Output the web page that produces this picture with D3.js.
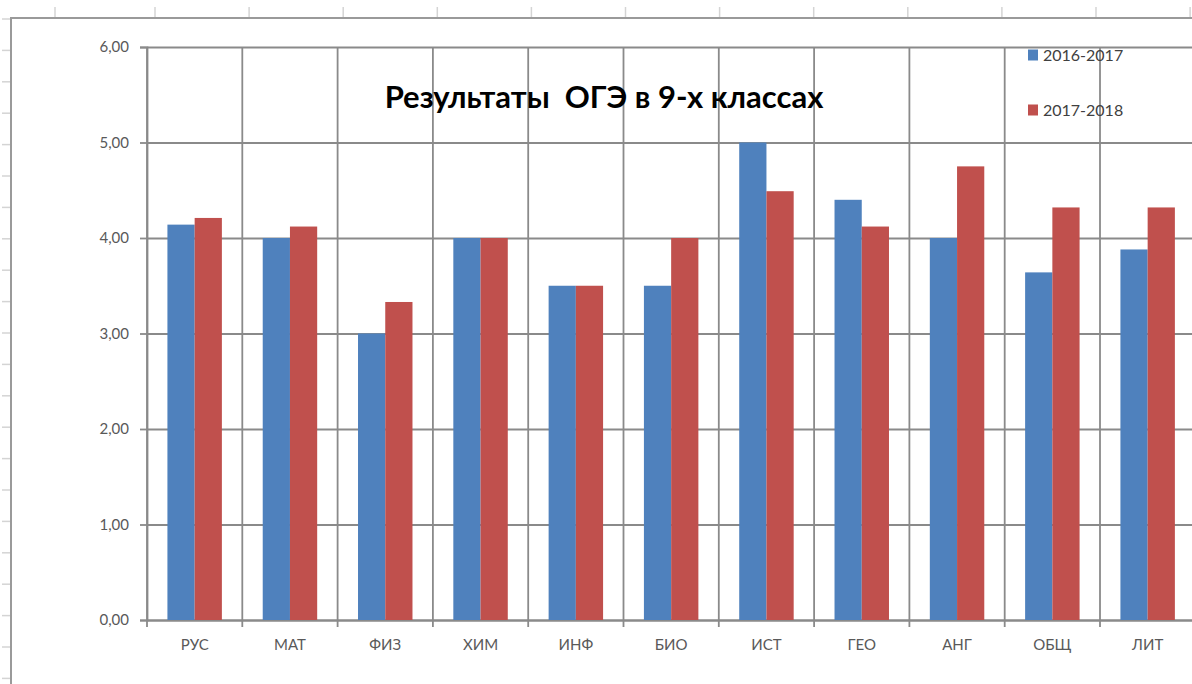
<!DOCTYPE html>
<html>
<head>
<meta charset="utf-8">
<script src="https://cdn.jsdelivr.net/npm/d3@7"></script>
<style>
  html, body { margin: 0; padding: 0; background: #fff; }
  svg { display: block; font-family: Lato, "Open Sans", sans-serif; }
</style>
</head>
<body>
<svg id="chart" width="1192" height="684"></svg>
<script>
const categories = ["РУС", "МАТ", "ФИЗ", "ХИМ", "ИНФ", "БИО", "ИСТ", "ГЕО", "АНГ", "ОБЩ", "ЛИТ"];
const seriesNames = ["2016-2017", "2017-2018"];
const values2016 = [4.14, 4.00, 3.00, 4.00, 3.50, 3.50, 5.00, 4.40, 4.00, 3.64, 3.88];
const values2018 = [4.21, 4.12, 3.33, 4.00, 3.50, 4.00, 4.49, 4.12, 4.75, 4.32, 4.32];
const yTicks = [0, 1, 2, 3, 4, 5, 6];
const colors = ["#4f81bd", "#c0504d"];
const title = "Результаты  ОГЭ в 9-х классах";

const svg = d3.select("#chart");
const width = 1192;
const height = 684;
const gridColor = "#8a8a8a";

// spreadsheet frame behind the chart
const sheet = svg.append("g");
sheet.selectAll(".col-tick")
  .data(d3.range(55, width, 94.1).map((d, i) => (i === 0 ? 55 : 155 + (i - 1) * 94.1)))
  .enter()
  .append("line")
  .attr("x1", (d) => d).attr("x2", (d) => d)
  .attr("y1", 7).attr("y2", 17)
  .attr("stroke", "#d4d4d4").attr("stroke-width", 1.5);
sheet.selectAll(".row-tick")
  .data(d3.range(19, height, 31.4))
  .enter()
  .append("line")
  .attr("x1", 2).attr("x2", 10)
  .attr("y1", (d) => d).attr("y2", (d) => d)
  .attr("stroke", "#d4d4d4").attr("stroke-width", 1.5);
sheet.append("line").attr("x1", 10).attr("x2", width).attr("y1", 18).attr("y2", 18)
  .attr("stroke", "#9a9a9a").attr("stroke-width", 2);
sheet.append("line").attr("x1", 11).attr("x2", 11).attr("y1", 18).attr("y2", height)
  .attr("stroke", "#9a9a9a").attr("stroke-width", 2);

// plot
const plotLeft = 147;
const step = 95.3;
const x0 = d3.scaleBand().domain(categories).range([plotLeft, plotLeft + step * categories.length]).padding(0);
const x1 = d3.scaleBand().domain(seriesNames).range([0, x0.bandwidth()]).paddingInner(0).paddingOuter(0.75);
const y = d3.scaleLinear().domain([0, 6]).range([620, 47]);

const g = svg.append("g");

// horizontal gridlines + y ticks
g.append("g")
  .attr("transform", `translate(${plotLeft},0)`)
  .call(d3.axisLeft(y).tickValues(yTicks).tickSize(-(width - plotLeft)).tickFormat(""))
  .call((a) => a.select(".domain").remove())
  .call((a) => a.selectAll("line").attr("stroke", gridColor).attr("stroke-width", 1.8));

g.append("g")
  .attr("transform", `translate(${plotLeft},0)`)
  .call(d3.axisLeft(y).tickValues(yTicks).tickSize(7).tickPadding(11)
    .tickFormat((d) => d3.format(".2f")(d).replace(".", ",")))
  .call((a) => a.select(".domain").attr("stroke", gridColor).attr("stroke-width", 1.8))
  .call((a) => a.selectAll("line").attr("stroke", gridColor).attr("stroke-width", 1.8))
  .call((a) => a.selectAll("text").attr("fill", "#595959").attr("font-size", 15).attr("font-family", "Lato, sans-serif"));

// vertical gridlines at category boundaries
const boundaries = categories.map((c) => x0(c)).concat([x0(categories[categories.length - 1]) + x0.bandwidth()]);
g.selectAll(".vgrid")
  .data(boundaries)
  .enter()
  .append("line")
  .attr("x1", (d) => d).attr("x2", (d) => d)
  .attr("y1", y(6)).attr("y2", y(0) + 7)
  .attr("stroke", gridColor).attr("stroke-width", 1.8);

// x axis labels
g.append("g")
  .attr("transform", `translate(0,${y(0)})`)
  .call(d3.axisBottom(x0).tickSize(0).tickPadding(19))
  .call((a) => a.select(".domain").attr("stroke", gridColor).attr("stroke-width", 1.8))
  .call((a) => a.selectAll("text").attr("fill", "#595959").attr("font-size", 15).attr("font-family", "Lato, sans-serif"));

// bars
const rows = categories.map((c, i) => ({ cat: c, vals: [values2016[i], values2018[i]] }));
const groups = g.selectAll(".cat")
  .data(rows)
  .enter()
  .append("g")
  .attr("transform", (d) => `translate(${x0(d.cat)},0)`);
groups.selectAll("rect")
  .data((d) => d.vals.map((v, j) => ({ name: seriesNames[j], value: v, j })))
  .enter()
  .append("rect")
  .attr("x", (d) => x1(d.name))
  .attr("width", x1.bandwidth())
  .attr("y", (d) => y(d.value))
  .attr("height", (d) => y(0) - y(d.value))
  .attr("fill", (d) => colors[d.j]);

// title
svg.append("text")
  .attr("x", 604)
  .attr("y", 108)
  .attr("text-anchor", "middle")
  .attr("font-size", 31)
  .attr("font-weight", 700)
  .attr("fill", "#000")
  .style("white-space", "pre")
  .text(title);

// legend
const legend = svg.append("g");
const legendY = [55, 110];
seriesNames.forEach((name, i) => {
  legend.append("rect")
    .attr("x", 1028).attr("y", legendY[i] - 5.5)
    .attr("width", 10).attr("height", 11)
    .attr("fill", colors[i]);
  legend.append("text")
    .attr("x", 1043).attr("y", legendY[i])
    .attr("dy", "0.35em")
    .attr("font-size", 16)
    .attr("fill", "#404040")
    .text(name);
});
</script>
</body>
</html>
